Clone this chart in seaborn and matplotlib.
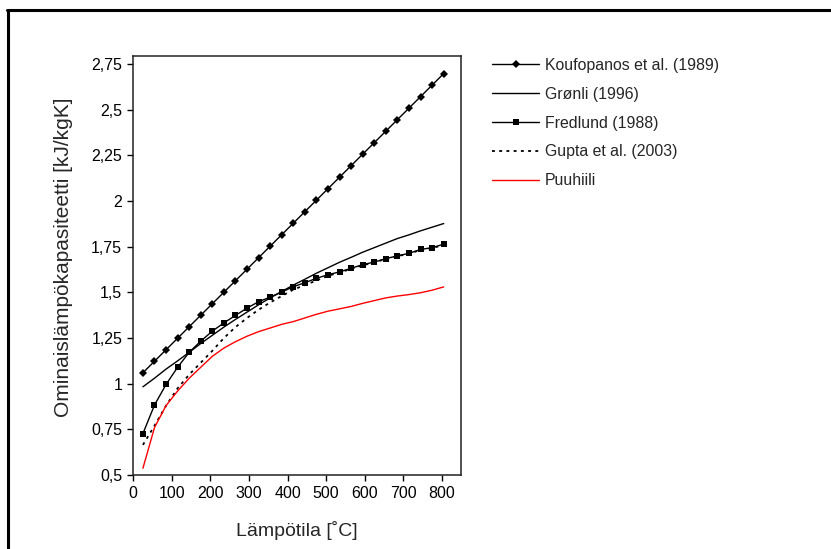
import matplotlib
matplotlib.use("Agg")
import matplotlib.pyplot as plt
import seaborn as sns
from matplotlib.lines import Line2D

# Temperature grid [°C]
temperature = [25, 55, 85, 115, 145, 175, 205, 235, 265, 295, 325, 355, 385, 415,
               445, 475, 505, 535, 565, 595, 625, 655, 685, 715, 745, 775, 805]

# Specific heat capacity [kJ/kgK]
koufopanos = [1.060, 1.123, 1.186, 1.249, 1.312, 1.375, 1.438, 1.501, 1.564,
              1.627, 1.690, 1.753, 1.816, 1.879, 1.942, 2.005, 2.068, 2.131,
              2.194, 2.257, 2.320, 2.383, 2.446, 2.509, 2.572, 2.635, 2.698]
gronli = [0.983, 1.030, 1.080, 1.125, 1.172, 1.220, 1.265, 1.310, 1.352,
          1.392, 1.432, 1.470, 1.505, 1.540, 1.572, 1.605, 1.635, 1.665,
          1.692, 1.720, 1.745, 1.770, 1.795, 1.815, 1.837, 1.857, 1.877]
fredlund = [0.727, 0.883, 0.996, 1.090, 1.172, 1.233, 1.288, 1.333, 1.374,
            1.414, 1.449, 1.474, 1.502, 1.531, 1.553, 1.577, 1.597, 1.612,
            1.632, 1.652, 1.666, 1.685, 1.700, 1.714, 1.735, 1.745, 1.764]
gupta = [0.665, 0.770, 0.880, 0.975, 1.050, 1.115, 1.180, 1.250, 1.310,
         1.360, 1.405, 1.445, 1.480, 1.515, 1.540, 1.565, 1.590, 1.610,
         1.628, 1.648, 1.664, 1.683, 1.698, 1.712, 1.732, 1.742, 1.760]
puuhiili = [0.537, 0.760, 0.880, 0.960, 1.030, 1.090, 1.150, 1.195, 1.230,
            1.260, 1.285, 1.305, 1.325, 1.340, 1.360, 1.380, 1.397, 1.410,
            1.423, 1.440, 1.455, 1.470, 1.480, 1.488, 1.498, 1.512, 1.530]

series_labels = ["Koufopanos et al. (1989)", "Grønli (1996)", "Fredlund (1988)",
                 "Gupta et al. (2003)", "Puuhiili"]

x_ticks = [0, 100, 200, 300, 400, 500, 600, 700, 800]
y_ticks = [0.5, 0.75, 1.0, 1.25, 1.5, 1.75, 2.0, 2.25, 2.5, 2.75]
y_tick_labels = ["0,5", "0,75", "1", "1,25", "1,5", "1,75", "2", "2,25", "2,5", "2,75"]

sns.set_style("ticks")
plt.rcParams["font.family"] = ["Liberation Sans", "DejaVu Sans"]

fig = plt.figure(figsize=(8.31, 5.49), dpi=100)
ax = fig.add_axes([0.1604, 0.1348, 0.3944, 0.7637])

lw = 1.0
sns.lineplot(x=temperature, y=koufopanos, ax=ax, color="black", lw=lw,
             marker="D", markersize=4.2, markeredgewidth=0, label=series_labels[0])
sns.lineplot(x=temperature, y=gronli, ax=ax, color="black", lw=lw,
             label=series_labels[1])
sns.lineplot(x=temperature, y=fredlund, ax=ax, color="black", lw=lw,
             marker="s", markersize=5, markeredgewidth=0, label=series_labels[2])
sns.lineplot(x=temperature, y=gupta, ax=ax, color="black", lw=1.3,
             linestyle=(0, (1.6, 2.4)), label=series_labels[3])
sns.lineplot(x=temperature, y=puuhiili, ax=ax, color="#ff0000", lw=lw,
             label=series_labels[4])

ax.set_xlim(0, 850)
ax.set_ylim(0.5, 2.796)
ax.set_xticks(x_ticks)
ax.set_xticklabels([str(t) for t in x_ticks])
ax.set_yticks(y_ticks)
ax.set_yticklabels(y_tick_labels)
ax.tick_params(axis="both", direction="out", length=4, width=1.0,
               labelsize=11.5, colors="black", pad=4)
for side in ["left", "right", "top", "bottom"]:
    ax.spines[side].set_visible(True)
    ax.spines[side].set_color("#222222")
    ax.spines[side].set_linewidth(1.1)

ax.set_xlabel("Lämpötila [˚C]", fontsize=14, labelpad=14)
ax.set_ylabel("Ominaislämpökapasiteetti [kJ/kgK]", fontsize=15, labelpad=12)
ax.yaxis.set_label_coords(-0.185, 0.52)

ax.legend(loc="upper left", bbox_to_anchor=(0.592, 0.895),
          bbox_transform=fig.transFigure, frameon=False, fontsize=11.4,
          handlelength=3.0, handletextpad=0.35, labelspacing=0.88,
          borderaxespad=0, borderpad=0)

# Outer frame around the figure content
fig.add_artist(Line2D([7.5 / 831, 7.5 / 831], [0, 1 - 10.5 / 549],
                      transform=fig.transFigure, color="black", lw=2.2))
fig.add_artist(Line2D([6.5 / 831, 1.0], [1 - 10.0 / 549, 1 - 10.0 / 549],
                      transform=fig.transFigure, color="black", lw=2.2))

fig.savefig("out.png", dpi=100, facecolor="white")
